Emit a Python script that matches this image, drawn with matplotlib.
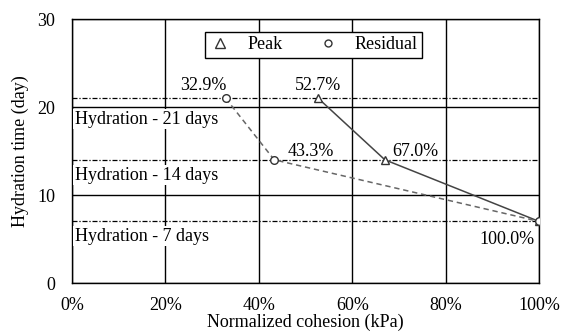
import matplotlib
matplotlib.use("Agg")
import matplotlib.pyplot as plt

plt.rcParams['font.family'] = ['Liberation Serif', 'DejaVu Serif']

# data
hydration_days = [21, 14, 7]
peak = [52.7, 67.0, 100.0]
residual = [32.9, 43.3, 100.0]
peak_labels = ['52.7%', '67.0%', '100.0%']
residual_labels = ['32.9%', '43.3%']
hydration_labels = ['Hydration - 21 days', 'Hydration - 14 days', 'Hydration - 7 days']
label_y = [19.6, 13.2, 6.3]
xticks = [0, 20, 40, 60, 80, 100]
yticks = [0, 10, 20, 30]

fs = 13
fig = plt.figure(figsize=(5.65, 3.31), dpi=100)
ax = fig.add_axes([72/565, 48/331, 467/565, 264/331])

ax.set_xlim(0, 100)
ax.set_ylim(0, 30)
ax.set_xticks(xticks)
ax.set_xticklabels([f'{t}%' for t in xticks])
ax.set_yticks(yticks)
ax.tick_params(axis='x', length=0, labelsize=fs, pad=10)
ax.tick_params(axis='y', length=0, labelsize=fs, pad=12)
ax.grid(True, color='black', linewidth=1.0)
ax.set_axisbelow(True)
for s in ax.spines.values():
    s.set_linewidth(1.0)

# dash-dot lines at each hydration time
for d in hydration_days:
    ax.axhline(d, color='black', linestyle=(0, (4, 1.5, 1, 1.5)), linewidth=0.9, zorder=2)

# hydration labels with white background hiding the grid
for yy, lab in zip(label_y, hydration_labels):
    ax.text(0.6, yy, lab, fontsize=fs, ha='left', va='top', zorder=3,
            bbox=dict(facecolor='white', edgecolor='none', pad=1.0))

ax.plot(peak, hydration_days, color='#444444', linewidth=1.1, marker='^',
        markersize=6, markerfacecolor='white', markeredgecolor='#333333',
        zorder=4, label='Peak')
ax.plot(residual, hydration_days, color='#666666', linewidth=1.1, linestyle=(0, (3.5, 2.5)),
        marker='o', markersize=5.5, markerfacecolor='white', markeredgecolor='#333333',
        zorder=4, label='Residual')

# percentage labels
ax.annotate(residual_labels[0], (residual[0], hydration_days[0]), xytext=(-16, 3),
            textcoords='offset points', ha='center', va='bottom', fontsize=fs)
ax.annotate(residual_labels[1], (residual[1], hydration_days[1]), xytext=(10, 0),
            textcoords='offset points', ha='left', va='bottom', fontsize=fs)
ax.annotate(peak_labels[0], (peak[0], hydration_days[0]), xytext=(0, 3),
            textcoords='offset points', ha='center', va='bottom', fontsize=fs)
ax.annotate(peak_labels[1], (peak[1], hydration_days[1]), xytext=(5, 0),
            textcoords='offset points', ha='left', va='bottom', fontsize=fs)
ax.annotate(peak_labels[2], (peak[2], hydration_days[2]), xytext=(-3, -7),
            textcoords='offset points', ha='right', va='top', fontsize=fs)

# legend shows markers only
h1 = ax.plot([], [], linestyle='none', marker='^', markersize=7,
             markerfacecolor='white', markeredgecolor='#333333')[0]
h2 = ax.plot([], [], linestyle='none', marker='o', markersize=5,
             markerfacecolor='white', markeredgecolor='#333333')[0]
leg = ax.legend([h1, h2], ['Peak', 'Residual'], ncol=2, loc='upper center',
                bbox_to_anchor=(0.517, 0.951), borderaxespad=0, fontsize=fs,
                fancybox=False, framealpha=1, edgecolor='black', handlelength=1.2,
                handletextpad=0.9, columnspacing=1.9, borderpad=0.25)
leg.get_frame().set_linewidth(1.0)
leg.set_zorder(5)

ax.set_ylabel('Hydration time (day)', fontsize=fs, labelpad=6)
ax.set_xlabel('Normalized cohesion (kPa)', fontsize=fs, labelpad=0)

fig.savefig('out.png', dpi=100)
